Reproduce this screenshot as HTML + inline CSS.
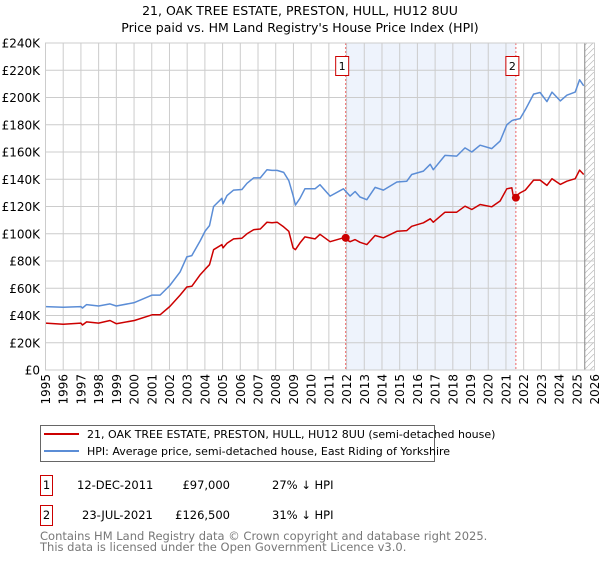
<!DOCTYPE html>
<html><head><meta charset="utf-8"><style>
body{margin:0;background:#fff;width:600px;height:560px;overflow:hidden;font-family:"Liberation Sans","DejaVu Sans",sans-serif;}
svg text{font-family:"DejaVu Sans","Liberation Sans",sans-serif;}
</style></head><body>
<svg id="chart" width="600" height="560" xmlns="http://www.w3.org/2000/svg">
<text x="300" y="15" text-anchor="middle" font-size="12.5">21, OAK TREE ESTATE, PRESTON, HULL, HU12 8UU</text>
<text x="300" y="32" text-anchor="middle" font-size="12.5">Price paid vs. HM Land Registry's House Price Index (HPI)</text>
<g id="plot"></g>
<g>
<rect x="40.5" y="425.5" width="394" height="36" fill="#fff" stroke="#666"/>
<line x1="44" y1="434" x2="79" y2="434" stroke="#cc0000" stroke-width="2"/>
<text x="87" y="438" font-size="11">21, OAK TREE ESTATE, PRESTON, HULL, HU12 8UU (semi-detached house)</text>
<line x1="44" y1="451" x2="79" y2="451" stroke="#5b8dd6" stroke-width="2"/>
<text x="87" y="455" font-size="11">HPI: Average price, semi-detached house, East Riding of Yorkshire</text>
</g>
<g font-size="11.5">
<rect x="40.5" y="475.5" width="12" height="20" fill="#fff" stroke="#cc0000"/>
<text x="46.5" y="489" text-anchor="middle">1</text>
<text x="77" y="489">12-DEC-2011</text>
<text x="230" y="489" text-anchor="end">£97,000</text>
<text x="272" y="489">27% ↓ HPI</text>
<rect x="40.5" y="505.5" width="12" height="20" fill="#fff" stroke="#cc0000"/>
<text x="46.5" y="519" text-anchor="middle">2</text>
<text x="82" y="519">23-JUL-2021</text>
<text x="230" y="519" text-anchor="end">£126,500</text>
<text x="272" y="519">31% ↓ HPI</text>
</g>
<g fill="#777" font-size="11.5">
<text x="40" y="540">Contains HM Land Registry data © Crown copyright and database right 2025.</text>
<text x="40" y="551">This data is licensed under the Open Government Licence v3.0.</text>
</g>
</svg>
<script>
const yearsData=[1995.0,1996.0,1997.0,1997.09,1997.32,1998.0,1998.64,1999.0,2000.02,2001.02,2001.47,2002.02,2002.6,2002.98,2003.26,2003.74,2004.02,2004.26,2004.49,2004.96,2005.02,2005.25,2005.62,2006.09,2006.38,2006.75,2007.13,2007.51,2007.79,2008.08,2008.45,2008.74,2008.98,2009.11,2009.37,2009.65,2010.22,2010.5,2011.07,2011.82,2012.2,2012.48,2012.76,2013.14,2013.61,2014.08,2014.84,2015.4,2015.68,2016.34,2016.72,2016.9,2017.56,2018.22,2018.69,2019.07,2019.54,2020.2,2020.67,2021.05,2021.33,2021.43,2021.8,2022.09,2022.56,2022.93,2023.31,2023.6,2024.07,2024.44,2024.91,2025.16,2025.39];
const hpiValues=[46.5,46,46.5,45.5,48,47,48.5,47,49.5,55,55,62,72,83,84,95,102,106,120,126,122,128,132,132.5,137,141,141,147,146.5,146.5,145,139,128,121,126,133,133,136,127.6,133,127.6,131,127,125,134,132,138,138.6,143.5,146,151,147,157.5,157,163,160,165,162.5,168,180,183,183.5,184.5,191,202.5,203.7,197,204,197.5,201.7,204,213,208.6];
const priceValues=[34.4,33.6,34.4,33,35.3,34.4,36.3,34,36.3,40.5,40.5,46.6,55,60.9,61.4,70,74,77.3,88.3,92,89.6,93,96.2,96.7,100,103,103.5,108.5,108,108.5,105,101.8,89.6,88.3,93.3,97.7,96.2,99.6,94.2,97,94.2,95.7,93.7,92,98.7,97,101.8,102.3,105.5,108,111,108.5,115.8,115.8,120.2,117.8,121.5,119.8,124,133,133.7,126.4,130,132,139.4,139.4,135.5,140.4,136.2,138.6,140.4,146.7,143.5];
const saleYears=[2011.95,2021.56];
const saleValues=[97,126.5];
const saleLabels=["1","2"];
const yTickValues=[0,20,40,60,80,100,120,140,160,180,200,220,240];
const yTickLabels=["£0","£20K","£40K","£60K","£80K","£100K","£120K","£140K","£160K","£180K","£200K","£220K","£240K"];
const xTickYears=[1995,1996,1997,1998,1999,2000,2001,2002,2003,2004,2005,2006,2007,2008,2009,2010,2011,2012,2013,2014,2015,2016,2017,2018,2019,2020,2021,2022,2023,2024,2025,2026];
const hatchStart=2025.45;

const L=45.5,R=594.5,T=43,B=370;
const X=y=>L+(y-1995)/(2026-1995)*(R-L);
const Y=v=>B-v/240*(B-T);
const NS="http://www.w3.org/2000/svg";
const g=document.getElementById('plot');
function mk(tag,attrs,parent){const e=document.createElementNS(NS,tag);for(const k in attrs)e.setAttribute(k,attrs[k]);(parent||g).appendChild(e);return e;}

const shade=mk('rect',{x:X(saleYears[0]),y:T,width:X(saleYears[1])-X(saleYears[0]),height:B-T,fill:'#eef3fc'});



const defs=mk('defs',{});
const pat=mk('pattern',{id:'hatch',width:6,height:6,patternUnits:'userSpaceOnUse'},defs);
mk('path',{d:'M0,6 L6,0',stroke:'#bbb','stroke-width':0.7},pat);
const hatch=mk('rect',{x:X(hatchStart),y:T,width:R-X(hatchStart),height:B-T,fill:'url(#hatch)'});



yTickValues.forEach((v,i)=>{
  const ln=mk('line',{x1:L,x2:R,y1:Y(v),y2:Y(v),stroke:'#ccc','stroke-width':1});
  
  
  const t=mk('text',{x:40,y:Y(v)+4.5,'text-anchor':'end','font-size':12});
  t.textContent=yTickLabels[i];
  
  
});
xTickYears.forEach(yr=>{
  const ln=mk('line',{x1:X(yr),x2:X(yr),y1:T,y2:B,stroke:'#ccc','stroke-width':1});
  
  
  const t=mk('text',{x:0,y:0,'text-anchor':'end','font-size':12,transform:`translate(${X(yr)+4.5},374) rotate(-90)`});
  t.textContent=yr;
  
  
});
const hl=mk('line',{x1:X(hatchStart),x2:X(hatchStart),y1:T,y2:B,stroke:'#888','stroke-width':1});



saleYears.forEach((yr,i)=>{
  const d=mk('line',{x1:X(yr),x2:X(yr),y1:T,y2:B,stroke:'#ee6666','stroke-width':1,'stroke-dasharray':'2,2'});
  
  
  const bx=mk('rect',{x:X(yr)-10,y:56.5,width:13,height:19,fill:'#fff',stroke:'#cc0000'});
  
  
  const t=mk('text',{x:X(yr)-3.5,y:70,'text-anchor':'middle','font-size':11});
  t.textContent=saleLabels[i];
  
  
});

function line(vals,color,name){
  const p=mk('polyline',{points:yearsData.map((y,i)=>X(y).toFixed(1)+','+Y(vals[i]).toFixed(1)).join(' '),fill:'none',stroke:color,'stroke-width':1.5,'stroke-linejoin':'round'});
  
  
}
line(hpiValues,'#5b8dd6','hpi-line');
line(priceValues,'#cc0000','price-line');

saleYears.forEach((yr,i)=>{
  const c=mk('circle',{cx:X(yr),cy:Y(saleValues[i]),r:4,fill:'#cc0000'});
  
  
});
const fr=mk('rect',{x:L,y:T,width:R-L,height:B-T,fill:'none',stroke:'#ccc'});


</script>
</body></html>
